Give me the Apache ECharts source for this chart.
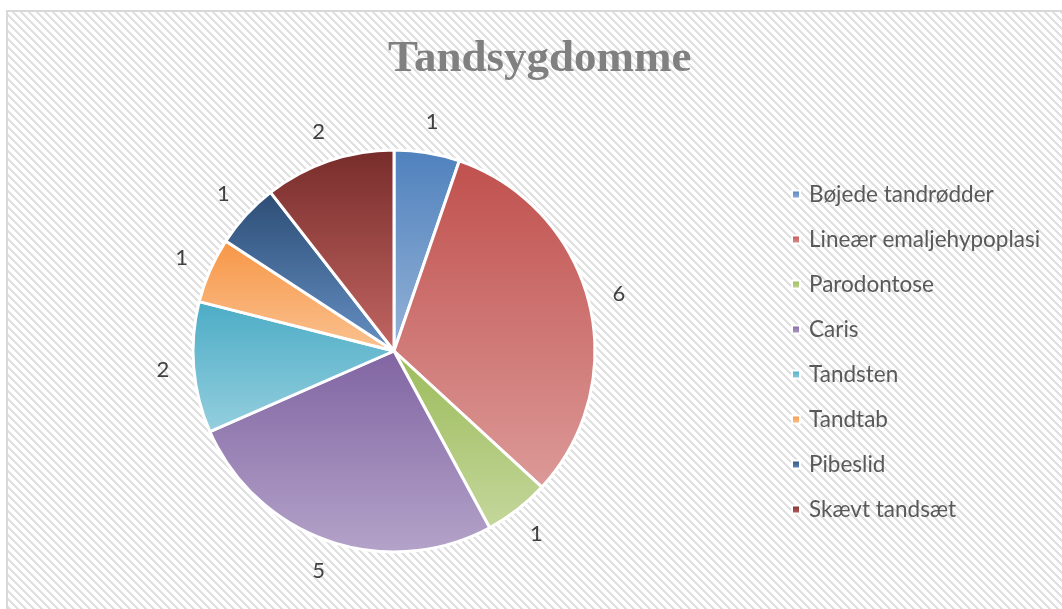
<!DOCTYPE html>
<html>
<head>
<meta charset="utf-8">
<style>
  html, body { margin: 0; padding: 0; background: #ffffff; }
  #chart { width: 1062px; height: 609px; }
</style>
<script src="https://cdn.jsdelivr.net/npm/echarts@6/dist/echarts.min.js"></script>
</head>
<body>
<div id="chart"></div>
<script>
// ---- data ----
var titleText = 'Tandsygdomme';
var categories = ['Bøjede tandrødder', 'Lineær emaljehypoplasi', 'Parodontose', 'Caris', 'Tandsten', 'Tandtab', 'Pibeslid', 'Skævt tandsæt'];
var values = [1, 6, 1, 5, 2, 1, 1, 2];
// gradient colors: top (base) -> bottom (lighter)
var topColors = ['#4f81bd', '#c0504d', '#9bbb59', '#8064a2', '#4bacc6', '#f79646', '#2c4d75', '#772c2a'];
var bottomColors = ['#95b3d7', '#dc9a98', '#c4d79c', '#b4a3c9', '#95cfde', '#fac291', '#6690c4', '#c26663'];

// ---- background pattern ----
function makePattern() {
  var c = document.createElement('canvas');
  c.width = 8; c.height = 8;
  var ctx = c.getContext('2d');
  ctx.fillStyle = '#ffffff';
  ctx.fillRect(0, 0, 8, 8);
  ctx.fillStyle = '#e0e0e0';
  for (var y = 0; y < 8; y++) {
    for (var x = 0; x < 8; x++) {
      var d = ((x - y) % 8 + 8) % 8;
      if (d < 3) ctx.fillRect(x, y, 1, 1);
    }
  }
  return c;
}

var chart = echarts.init(document.getElementById('chart'), null, { renderer: 'canvas' });

var cx = 394, cy = 351, r = 201;

var mainData = categories.map(function (name, i) {
  return {
    name: name,
    value: values[i],
    itemStyle: {
      color: new echarts.graphic.LinearGradient(0, 0, 0, 1, [
        { offset: 0, color: topColors[i] },
        { offset: 1, color: bottomColors[i] }
      ])
    }
  };
});

var labelData = categories.map(function (name, i) {
  return { name: name, value: values[i] };
});

var option = {
  backgroundColor: '#ffffff',
  animation: false,
  graphic: [
    {
      type: 'rect',
      z: -10,
      silent: true,
      shape: { x: 7, y: 11, width: 1100, height: 700 },
      style: { fill: { image: makePattern(), repeat: 'repeat' }, stroke: '#d9d9d9', lineWidth: 2 }
    }
  ],
  title: {
    text: titleText,
    left: 383,
    top: 32,
    textStyle: {
      fontFamily: 'Liberation Serif',
      fontWeight: 'bold',
      fontSize: 45,
      color: '#808080'
    }
  },
  legend: {
    orient: 'vertical',
    left: 786,
    top: 178,
    itemWidth: 8,
    itemHeight: 8,
    itemGap: 22,
    icon: 'rect',
    data: categories,
    selectedMode: false,
    textStyle: {
      fontFamily: 'Lato',
      fontSize: 22.5,
      lineHeight: 20,
      color: '#595959',
      padding: [0, 0, 0, 4]
    }
  },
  series: [
    {
      type: 'pie',
      radius: r,
      center: [cx, cy],
      startAngle: 90,
      clockwise: true,
      avoidLabelOverlap: false,
      silent: true,
      data: mainData,
      label: { show: false },
      labelLine: { show: false },
      itemStyle: { borderColor: '#ffffff', borderWidth: 3 },
      emphasis: { disabled: true }
    },
    {
      type: 'pie',
      radius: [r, r + 56],
      center: [cx, cy],
      startAngle: 90,
      clockwise: true,
      avoidLabelOverlap: false,
      silent: true,
      data: labelData,
      itemStyle: { color: 'rgba(0,0,0,0)' },
      label: {
        show: true,
        position: 'inside',
        formatter: '{c}',
        fontFamily: 'Lato',
        fontSize: 22,
        color: '#404040'
      },
      labelLine: { show: false },
      emphasis: { disabled: true }
    }
  ]
};

chart.setOption(option);
</script>
</body>
</html>
